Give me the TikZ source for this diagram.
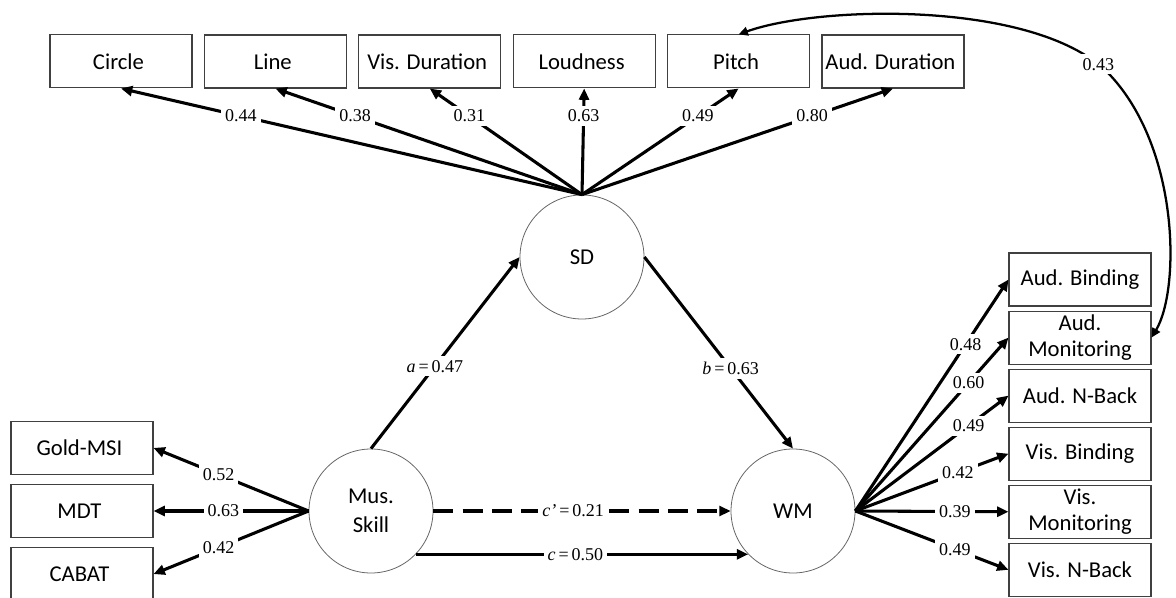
\documentclass[tikz,border=0pt]{standalone}
\usepackage{fontspec}
\setmainfont{Carlito}
\newfontfamily\numfont{Liberation Serif}
\usetikzlibrary{matrix,positioning,arrows.meta}

\begin{document}
\begin{tikzpicture}[x=0.75pt, y=-0.75pt,
    box/.style={draw=black!75, line width=0.8pt, minimum width=106.5pt,
        minimum height=39.75pt, inner sep=1pt, align=center,
        font=\fontsize{17}{20}\selectfont},
    latent/.style={circle, draw=black!60, line width=0.6pt, minimum size=93pt,
        inner sep=0pt, align=center, font=\fontsize{17}{21.5}\selectfont},
    load/.style={line width=2.3pt, -{Triangle[length=8.5pt,width=7.5pt]}},
    coef/.style={fill=white, inner sep=3pt, font=\numfont\fontsize{13.5}{15}\selectfont}
]
    \useasboundingbox (0,0) rectangle (1176,598);

    % latent variables
    \node[latent] (sd) at (582,257) {SD};
    \node[latent] (mus skill) at (371,511) {Mus.\\Skill};
    \node[latent] (wm) at (793,511) {WM};

    % indicators
    \matrix (top row) [matrix of nodes, nodes={box}, column sep=8.5pt] at (507,61.5) {
        Circle & Line & Vis. Duration & Loudness & Pitch & Aud. Duration \\
    };
    \matrix (left col) [matrix of nodes, nodes={box}, row sep=6.75pt] at (82,511) {
        Gold-MSI \\ MDT \\ CABAT \\
    };
    \node[box] (aud binding) at (1080,279.5) {Aud. Binding};
    \node[box, below=3pt of aud binding] (aud monitoring) {Aud.\\Monitoring};
    \node[box, below=3pt of aud monitoring] (aud nback) {Aud. N-Back};
    \node[box, below=3pt of aud nback] (vis binding) {Vis. Binding};
    \node[box, below=3pt of vis binding] (vis monitoring) {Vis.\\Monitoring};
    \node[box, below=3pt of vis monitoring] (vis nback) {Vis. N-Back};

    % loadings
    \foreach \i/\val in {1/0.44, 2/0.38, 3/0.31, 4/0.63, 5/0.49, 6/0.80}
        \draw[load] (sd.north) -- node[coef, pos=0.74] {\val} (top row-1-\i.south);

    \foreach \i/\val/\p in {1/0.52/0.58, 2/0.63/0.55, 3/0.42/0.58}
        \draw[load] (mus skill.west) -- node[coef, pos=\p] {\val} (left col-\i-1.east);

    \foreach \target/\val/\p in {aud binding/0.48/0.72, aud monitoring/0.60/0.74,
            aud nback/0.49/0.74, vis binding/0.42/0.67, vis monitoring/0.39/0.65,
            vis nback/0.49/0.65}
        \draw[load] (wm.east) -- node[coef, pos=\p] {\val} (\target.west);

    % structural paths
    \draw[load] (mus skill.north) -- node[coef, pos=0.43] {\textit{a}\,=\,0.47} (sd.west);
    \draw[load] (sd.east) -- node[coef, pos=0.58] {\textit{b}\,=\,0.63} (wm.north);
    \draw[load, dash pattern=on 15pt off 7pt] (mus skill.east)
        -- node[coef, pos=0.47] {\textit{c’}\,=\,0.21} (wm.west);
    \draw[load] (mus skill.-44) -- node[coef, pos=0.48] {\textit{c}\,=\,0.50} (wm.-136);

    % residual covariance
    \draw[line width=1.7pt, {Triangle[length=7pt,width=6.5pt]}-{Triangle[length=7pt,width=6.5pt]}]
        (top row-1-5.north) .. controls (820,5) and (1040,0) .. (1110,75)
        node[coef, pos=0.95] {0.43}
        .. controls (1180,150) and (1180,290) .. (aud monitoring.east);
\end{tikzpicture}
\end{document}
